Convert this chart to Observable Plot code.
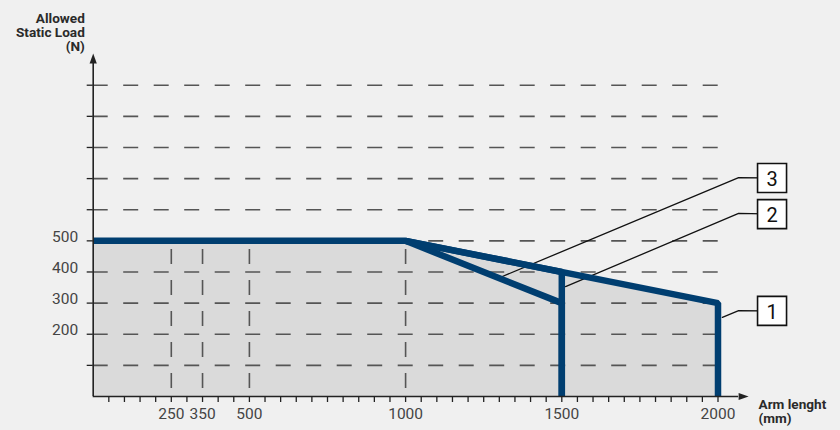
<!DOCTYPE html>
<html>
<head>
<meta charset="utf-8">
<script src="https://cdn.jsdelivr.net/npm/d3@7"></script>
<script src="https://cdn.jsdelivr.net/npm/@observablehq/plot@0.6"></script>
<style>
  html, body { margin: 0; padding: 0; background: #f0f0f0; }
  #chart svg { display: block; }
</style>
</head>
<body>
<div id="chart"></div>
<script>
// ---- data ----
const curve1X = [0, 1000, 2000, 2000];
const curve1Y = [500, 500, 300, 0];
const curve2X = [1000, 1500, 1500];
const curve2Y = [500, 400, 0];
const curve3X = [1000, 1500, 1500];
const curve3Y = [500, 300, 0];

const gridValues = [100, 200, 300, 400, 500, 600, 700, 800, 900, 1000];
const yTickLabels = [200, 300, 400, 500];
const xTickLabels = [250, 350, 500, 1000, 1500, 2000];
const refLines = [250, 350, 500, 1000];
const xMinorTicks = d3.range(50, 2001, 50);

// callout labels (data coordinates)
const labelNames = ["1", "2", "3"];
const leaderStartX = [2014, 1512, 1304];
const leaderStartY = [254, 353, 383];
const leaderElbowX = [2066, 2066, 2066];
const leaderElbowY = [276, 588, 703];
const boxX = [2173, 2173, 2173];
const boxY = [275, 586, 702];

// ---- tables ----
const toRows = (name, xs, ys) => xs.map((x, i) => ({curve: name, x, y: ys[i]}));
const area1 = toRows("1", curve1X, curve1Y);
const lines = [
  ...toRows("3", curve3X, curve3Y),
  ...toRows("2", curve2X, curve2Y),
  ...toRows("1", curve1X, curve1Y)
];
const leaders = labelNames.flatMap((n, i) => [
  {label: n, x: leaderStartX[i], y: leaderStartY[i]},
  {label: n, x: leaderElbowX[i], y: leaderElbowY[i]},
  {label: n, x: boxX[i], y: boxY[i]}
]);
const boxes = labelNames.map((n, i) => ({label: n, x: boxX[i], y: boxY[i]}));

const arrowUp = {draw(ctx) { ctx.moveTo(0, -10); ctx.lineTo(3.6, 0); ctx.lineTo(-3.6, 0); ctx.closePath(); }};
const arrowRight = {draw(ctx) { ctx.moveTo(10, 0); ctx.lineTo(0, -3.6); ctx.lineTo(0, 3.6); ctx.closePath(); }};

const blue = "#003e70";
const ink = "#222";

const chart = Plot.plot({
  width: 840,
  height: 430,
  marginLeft: 92.7,
  marginRight: 122.5,
  marginTop: 84.7,
  marginBottom: 34,
  x: {domain: [0, 2000], axis: null},
  y: {domain: [0, 1000], axis: null},
  style: {background: "#f0f0f0", fontFamily: "Roboto, 'Open Sans', sans-serif", overflow: "visible"},
  marks: [
    Plot.areaY(area1, {x: "x", y: "y", fill: "#dadada"}),
    Plot.ruleY(gridValues, {x1: 0, x2: 2005, stroke: "#555", strokeWidth: 1.6, strokeDasharray: "15,15.5"}),
    Plot.ruleX(refLines, {y1: 0, y2: 500, stroke: "#555", strokeWidth: 1.6, strokeDasharray: "15,16", strokeDashoffset: 23}),
    Plot.line(leaders, {x: "x", y: "y", z: "label", stroke: "#111", strokeWidth: 1.3}),
    Plot.line(lines, {x: "x", y: "y", z: "curve", stroke: blue, strokeWidth: 6.5, strokeLinejoin: "miter", strokeLinecap: "butt"}),
    // axes
    Plot.ruleX([0], {y1: 0, y2: 1070, stroke: ink, strokeWidth: 1.6}),
    Plot.ruleY([0], {x1: 0, x2: 2066, stroke: ink, strokeWidth: 1.6}),
    Plot.dot([{x: 0, y: 1070}], {x: "x", y: "y", symbol: arrowUp, r: 5, fill: ink, stroke: "none"}),
    Plot.dot([{x: 2066, y: 0}], {x: "x", y: "y", symbol: arrowRight, r: 5, fill: ink, stroke: "none"}),
    Plot.ruleX(xMinorTicks, {y1: 0, y2: 0, insetBottom: -6, stroke: ink, strokeWidth: 1.3}),
    Plot.ruleY(gridValues, {x1: 0, x2: 0, insetLeft: -6, stroke: ink, strokeWidth: 1.3}),
    // tick labels
    Plot.text(yTickLabels, {x: 0, y: d => d, text: d => String(d), textAnchor: "end", dx: -15, dy: -4, fontSize: 15.5, fill: "#444"}),
    Plot.text(xTickLabels, {x: d => d, y: 0, text: d => String(d), dy: 18, fontSize: 15.5, fill: "#444"}),
    // axis titles
    Plot.text(["Allowed\nStatic Load\n(N)"], {x: 0, y: 1000, text: d => d, textAnchor: "end", lineAnchor: "top", dx: -8.4, dy: -71.5, lineHeight: 1, fontSize: 13.6, fontWeight: "bold", fill: "#2a2a2a"}),
    Plot.text(["Arm lenght\n(mm)"], {x: 2000, y: 0, text: d => d, textAnchor: "start", lineAnchor: "top", dx: 40.5, dy: 3.2, lineHeight: 1, fontSize: 13.6, fontWeight: "bold", fill: "#2a2a2a"}),
    // callout boxes
    Plot.dot(boxes, {x: "x", y: "y", symbol: "square", r: 16.36, fill: "white", stroke: "#111", strokeWidth: 1.6}),
    Plot.text(boxes, {x: "x", y: "y", text: "label", fontSize: 20, dy: 2, fill: "#111"})
  ]
});

document.getElementById("chart").appendChild(chart);
</script>
</body>
</html>
